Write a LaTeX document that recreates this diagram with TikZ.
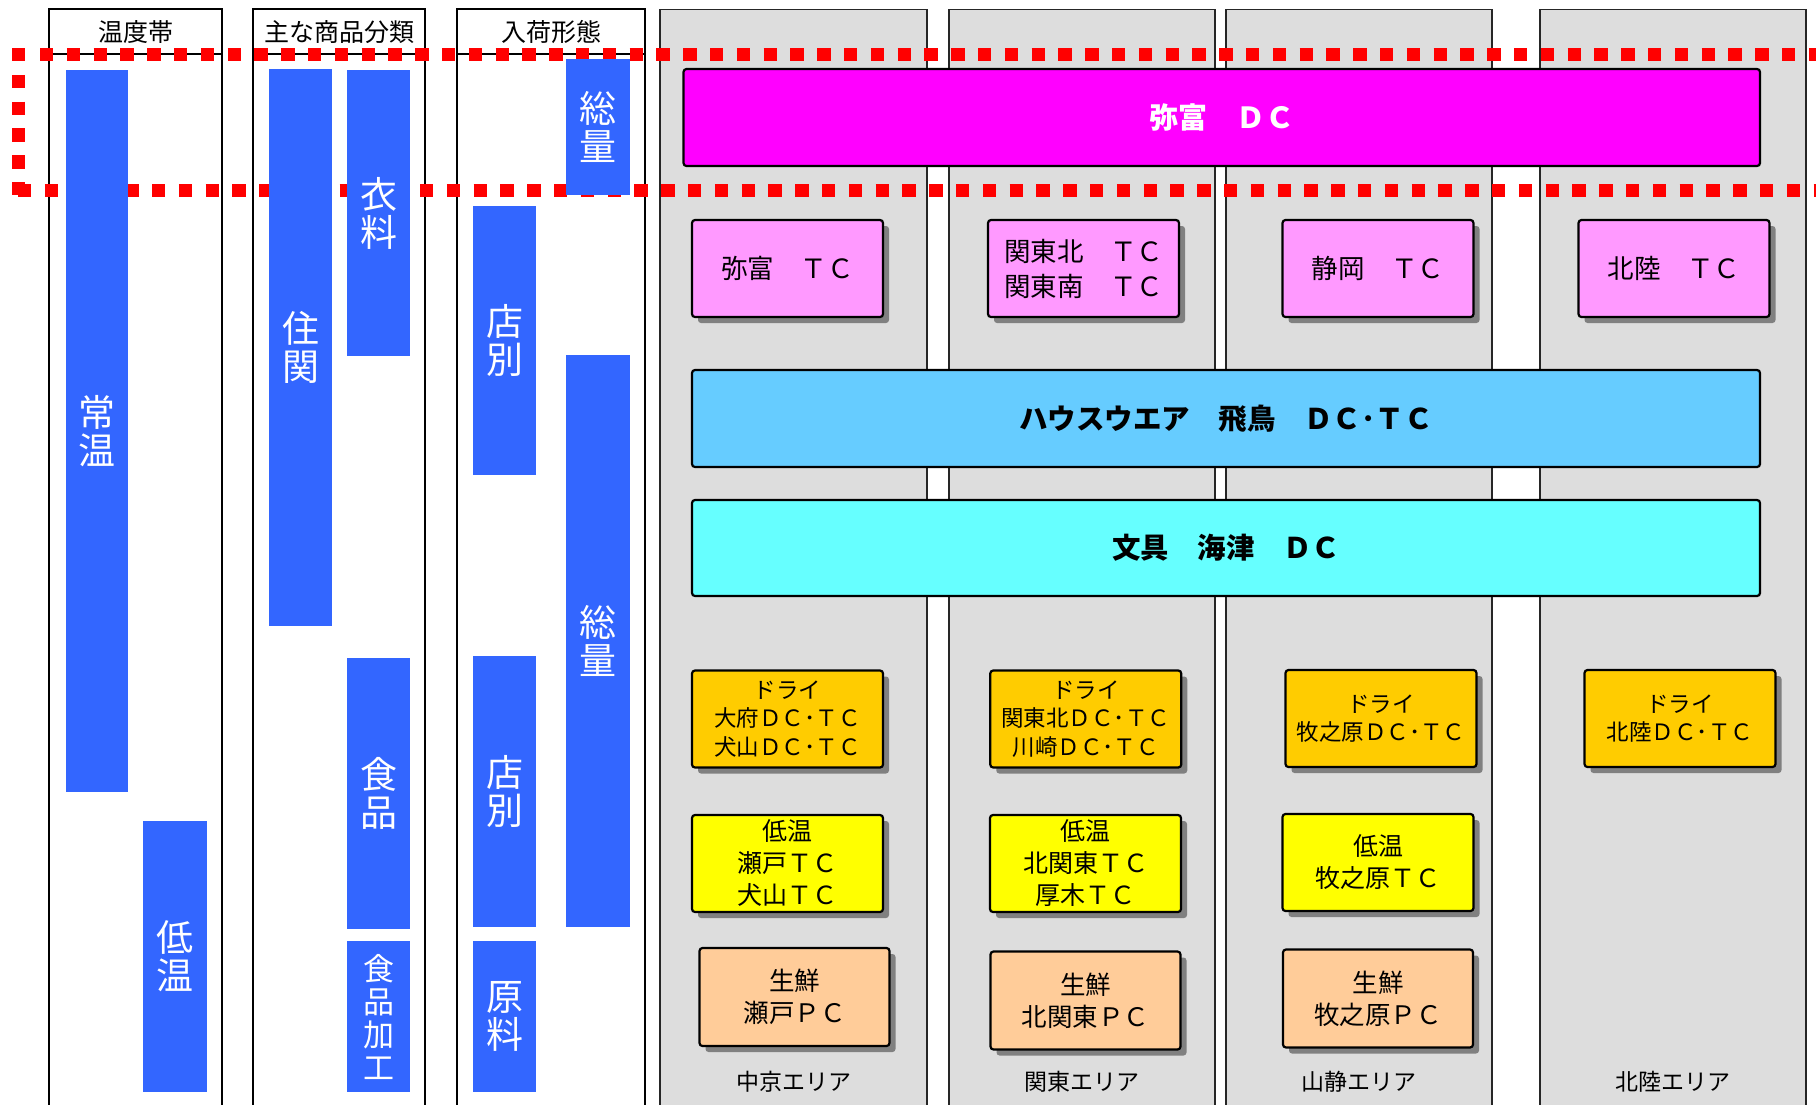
\documentclass[tikz,border=0pt]{standalone}
\usepackage{fontspec}
\setmainfont{Noto Sans CJK JP}
\usetikzlibrary{shadows}
\definecolor{barblue}{HTML}{3366FF}
\definecolor{colgray}{HTML}{DDDDDD}
\definecolor{magbox}{HTML}{FF00FF}
\definecolor{pinkbox}{HTML}{FF99FF}
\definecolor{hwbox}{HTML}{66CCFF}
\definecolor{bunbox}{HTML}{66FFFF}
\definecolor{drybox}{HTML}{FFCC00}
\definecolor{lowbox}{HTML}{FFFF00}
\definecolor{freshbox}{HTML}{FFCC99}
\definecolor{dotred}{HTML}{FF0000}
\newcommand\fsz[2]{\fontsize{#1pt}{#2pt}\selectfont}
\begin{document}
\begin{tikzpicture}[x=1pt,y=-1pt,
  whitecol/.style={draw=black, line width=1.8pt, fill=white},
  graycol/.style={draw=black!85, line width=1.6pt, fill=colgray},
  headtext/.style={font=\fsz{25}{30}, inner sep=0pt},
  areatext/.style={font=\fsz{23}{28}, inner sep=0pt},
  bar/.style={fill=barblue, draw=none, inner sep=0pt, outer sep=0pt, text=white, align=center, font=\fsz{37}{38}},
  box/.style={draw=black, line width=2.2pt, rounded corners=3pt, inner sep=0pt, align=center},
  shadowed/.style={drop shadow={shadow xshift=6pt, shadow yshift=-6pt, fill=black!50, opacity=1}},
  redline/.style={draw=dotred, line width=13pt, dash pattern=on 13.4pt off 13.4pt}
]
\useasboundingbox (0,0) rectangle (1816,1104);
\fill[white] (0,0) rectangle (1816,1104);

% white columns
\draw[whitecol] (49,1115) -- (49,9.3) -- (222,9.3) -- (222,1115);
\draw[whitecol] (253,1115) -- (253,9.3) -- (425,9.3) -- (425,1115);
\draw[whitecol] (457,1115) -- (457,9.3) -- (645,9.3) -- (645,1115);
\draw[black, line width=1.8pt] (49,54) -- (222,54) (253,54) -- (425,54) (457,54) -- (645,54);
\node[headtext] (h1) at (135.5,32.5) {温度帯};
\node[headtext] (h2) at (339,32.5) {主な商品分類};
\node[headtext] (h3) at (551,32.5) {入荷形態};

% gray columns
\draw[graycol] (660,1115) -- (660,9.3) -- (927,9.3) -- (927,1115);
\draw[graycol] (949,1115) -- (949,9.3) -- (1215,9.3) -- (1215,1115);
\draw[graycol] (1226,1115) -- (1226,9.3) -- (1492,9.3) -- (1492,1115);
\draw[graycol] (1540,1115) -- (1540,9.3) -- (1806,9.3) -- (1806,1115);
\node[areatext] (a1) at (793.5,1082) {中京エリア};
\node[areatext] (a2) at (1082,1082) {関東エリア};
\node[areatext] (a3) at (1359,1082) {山静エリア};
\node[areatext] (a4) at (1673,1082) {北陸エリア};

% red dotted frame
\draw[redline] (40,54.5) -- (1835,54.5);
\draw[redline] (18,48) -- (18,197);
\draw[redline] (18,190) -- (1835,190);

% blue bars
\node[bar, minimum width=62.4pt, minimum height=722pt] (jo) at (96.8,431) {常\\温};
\node[bar, minimum width=64pt, minimum height=271pt] (tei) at (175,956.5) {低\\温};
\node[bar, minimum width=63pt, minimum height=557pt] (juka) at (300.5,347.5) {住\\関};
\node[bar, minimum width=63pt, minimum height=286pt] (iryo) at (378.5,213) {衣\\料};
\node[bar, minimum width=63pt, minimum height=271pt] (shoku) at (378.5,793.5) {食\\品};
\node[bar, minimum width=63pt, minimum height=151pt, font=\fsz{31}{33}] (kako) at (378.5,1016.5) {食\\品\\加\\工};
\node[bar, minimum width=63.5pt, minimum height=136pt] (sou1) at (597.8,127) {総\\量};
\node[bar, minimum width=63pt, minimum height=269pt] (ten1) at (504.5,340.5) {店\\別};
\node[bar, minimum width=63.5pt, minimum height=572pt] (sou2) at (597.8,641) {総\\量};
\node[bar, minimum width=63pt, minimum height=271pt] (ten2) at (504.5,791.5) {店\\別};
\node[bar, minimum width=63pt, minimum height=151pt] (genryo) at (504.5,1016.5) {原\\料};

% wide boxes
\node[box, fill=magbox, text=white, font=\fsz{29}{34}\bfseries, minimum width=1076.5pt, minimum height=97pt] (yatomidc) at (1221.75,117.5) {弥富　ＤＣ};
\node[box, fill=hwbox, font=\fsz{28.5}{34}\bfseries, minimum width=1068pt, minimum height=97pt] (asuka) at (1226,418.5) {ハウスウエア　飛鳥　ＤＣ･ＴＣ};
\node[box, fill=bunbox, font=\fsz{28.5}{34}\bfseries, minimum width=1068pt, minimum height=96pt] (kaizu) at (1226,548) {文具　海津　ＤＣ};

% TC boxes
\tikzset{tcbox/.style={box, shadowed, fill=pinkbox, font=\fsz{26.5}{35}, minimum width=191pt, minimum height=97pt}}
\node[tcbox] (tc1) at (787.5,268.5) {弥富　ＴＣ};
\node[tcbox] (tc2) at (1083.5,268.5) {関東北　ＴＣ\\関東南　ＴＣ};
\node[tcbox] (tc3) at (1378,268.5) {静岡　ＴＣ};
\node[tcbox] (tc4) at (1674,268.5) {北陸　ＴＣ};

% dry boxes
\tikzset{drystyle/.style={box, shadowed, fill=drybox, font=\fsz{22.5}{28.5}, minimum width=191pt, minimum height=97pt}}
\node[drystyle] (d1) at (787.5,719) {ドライ\\大府ＤＣ･ＴＣ\\犬山ＤＣ･ＴＣ};
\node[drystyle] (d2) at (1085.75,719) {ドライ\\関東北ＤＣ･ＴＣ\\川崎ＤＣ･ＴＣ};
\node[drystyle] (d3) at (1381,718.5) {ドライ\\牧之原ＤＣ･ＴＣ};
\node[drystyle] (d4) at (1680,718.5) {ドライ\\北陸ＤＣ･ＴＣ};

% low temperature boxes
\tikzset{lowstyle/.style={box, shadowed, fill=lowbox, font=\fsz{25}{32}, minimum width=191pt, minimum height=97pt}}
\node[lowstyle] (l1) at (787.5,863.5) {低温\\瀬戸ＴＣ\\犬山ＴＣ};
\node[lowstyle] (l2) at (1085.5,863.5) {低温\\北関東ＴＣ\\厚木ＴＣ};
\node[lowstyle] (l3) at (1378,862.5) {低温\\牧之原ＴＣ};

% fresh boxes
\tikzset{freshstyle/.style={box, shadowed, fill=freshbox, font=\fsz{25.5}{32}, minimum width=190pt, minimum height=98pt}}
\node[freshstyle] (f1) at (794.5,997) {生鮮\\瀬戸ＰＣ};
\node[freshstyle] (f2) at (1085.5,1000.5) {生鮮\\北関東ＰＣ};
\node[freshstyle] (f3) at (1378,998.5) {生鮮\\牧之原ＰＣ};
\end{tikzpicture}
\end{document}
